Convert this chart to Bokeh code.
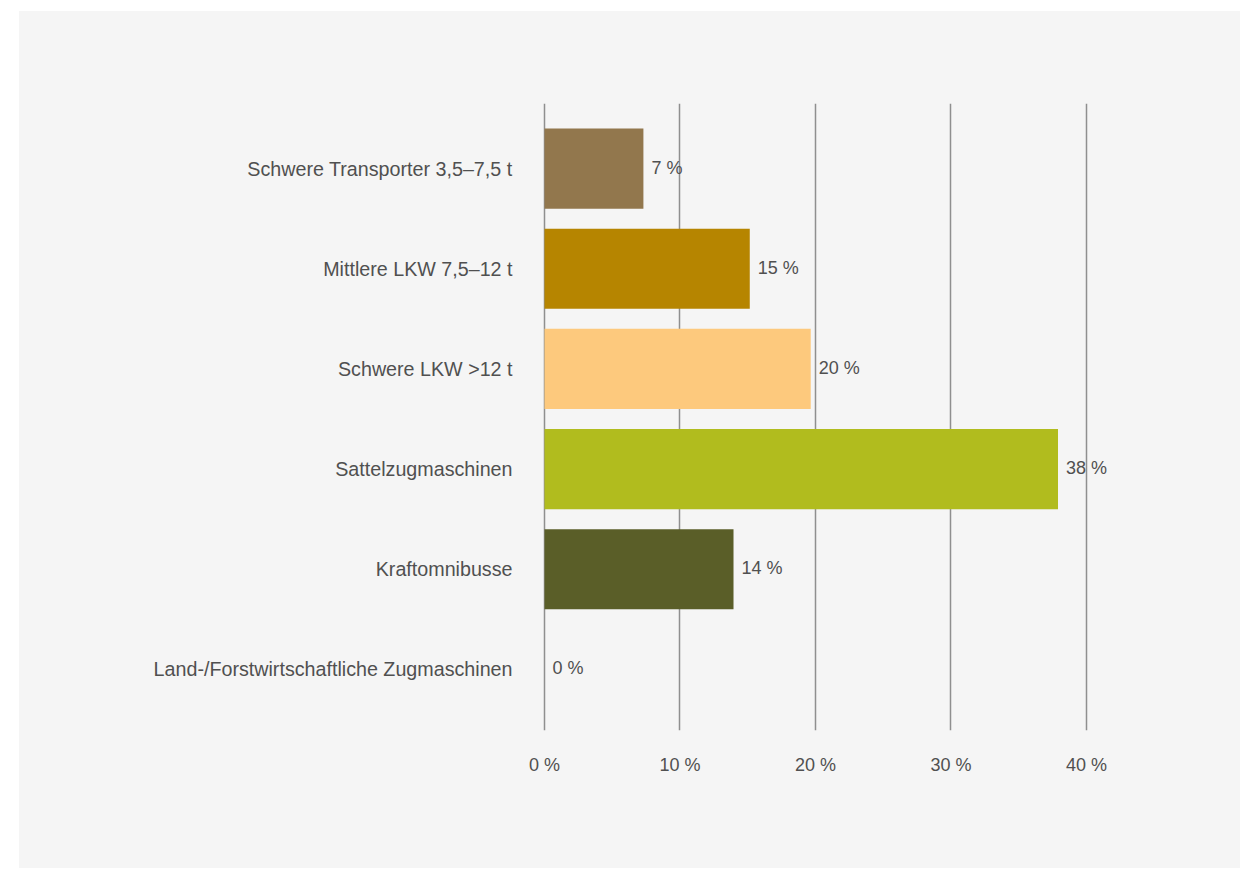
from bokeh.plotting import figure
from bokeh.models import Range1d, FixedTicker, ColumnDataSource
from bokeh.core.properties import value
from bokeh.embed import file_html
from bokeh.resources import INLINE

categories = [
    "Schwere Transporter 3,5–7,5 t",
    "Mittlere LKW 7,5–12 t",
    "Schwere LKW >12 t",
    "Sattelzugmaschinen",
    "Kraftomnibusse",
    "Land-/Forstwirtschaftliche Zugmaschinen",
]
shares = [7.3, 15.15, 19.65, 37.9, 13.95, 0.0]
share_labels = ["7 %", "15 %", "20 %", "38 %", "14 %", "0 %"]
colors = ["#92774d", "#b68500", "#fdc97d", "#b1bc1e", "#5a5e28", "#5a5e28"]
x_ticks = [0, 10, 20, 30, 40]

BG = "#f5f5f5"
TXT = "#505050"
FONT = "Liberation Sans"

pos = list(range(len(categories)))
src = ColumnDataSource(dict(y=pos, v=shares, lab=share_labels, c=colors))

p = figure(width=1221, height=857, output_backend="svg", toolbar_location=None,
           x_range=Range1d(-0.1476, 47.9), y_range=Range1d(5.61, -0.65),
           min_border_left=523, min_border_right=47, min_border_top=92,
           min_border_bottom=138, margin=(11, 0, 0, 19))
p.background_fill_color = None
p.border_fill_color = None
p.styles = {"background-color": BG}
p.outline_line_color = None

p.hbar(y="y", left=0, right="v", height=0.8, color="c", source=src, line_color=None)
p.text(x="v", y="y", text="lab", source=src, x_offset=8, y_offset=-1, text_baseline="middle",
       text_align="left", text_font=value(FONT), text_font_size="18px", text_color=TXT)

p.xgrid.ticker = FixedTicker(ticks=x_ticks)
p.xgrid.grid_line_color = "#8f8f8f"
p.xgrid.grid_line_width = 1.5
p.ygrid.grid_line_color = None

p.xaxis.ticker = FixedTicker(ticks=x_ticks)
p.xaxis.major_label_overrides = {t: f"{t} %" for t in x_ticks}
p.xaxis.axis_line_color = None
p.xaxis.major_tick_line_color = None
p.xaxis.minor_tick_line_color = None
p.xaxis.major_label_standoff = 18
p.xaxis.major_label_text_font = FONT
p.xaxis.major_label_text_font_size = "18px"
p.xaxis.major_label_text_color = TXT

p.yaxis.ticker = FixedTicker(ticks=pos)
p.yaxis.major_label_overrides = {i: c for i, c in zip(pos, categories)}
p.yaxis.axis_line_color = None
p.yaxis.major_tick_line_color = None
p.yaxis.minor_tick_line_color = None
p.yaxis.major_label_standoff = 24
p.yaxis.major_label_text_font = FONT
p.yaxis.major_label_text_font_size = "19.7px"
p.yaxis.major_label_text_color = TXT

open("out.html", "w").write(file_html(p, INLINE))
